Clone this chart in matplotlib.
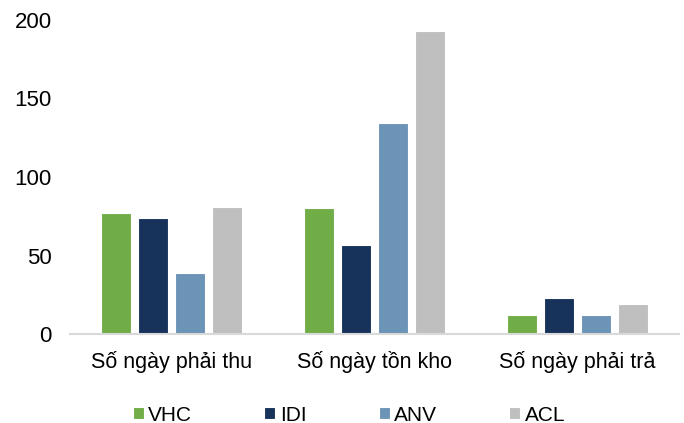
import matplotlib
matplotlib.use("Agg")
import matplotlib.pyplot as plt
import numpy as np

plt.rcParams['font.family'] = ['Liberation Sans', 'DejaVu Sans']

categories = ["Số ngày phải thu", "Số ngày tồn kho", "Số ngày phải trả"]
companies = ["VHC", "IDI", "ANV", "ACL"]
vhc = [77, 80, 12]
idi = [74, 56.5, 23]
anv = [39, 134.5, 12.5]
acl = [81, 193, 19.5]
series = [vhc, idi, anv, acl]
colors = ["#70AD47", "#17335C", "#6C94B6", "#BFBFBF"]
yticks = [0, 50, 100, 150, 200]

fig = plt.figure(figsize=(6.84, 4.23), dpi=100)
ax = fig.add_axes([0.102, 0.21, 0.891, 0.743])

x = np.arange(len(categories))
pitch = 0.182
width = 0.146
for i, (name, vals, c) in enumerate(zip(companies, series, colors)):
    offs = (i - 1.5) * pitch
    ax.bar(x + offs, vals, width=width, color=c, edgecolor="white",
           linewidth=0.8, label=name, zorder=2)

ax.set_xlim(-0.5, 2.5)
ax.set_ylim(0, 200)
ax.set_yticks(yticks)
ax.set_yticklabels([str(t) for t in yticks], fontsize=16)
ax.set_xticks(x)
ax.set_xticklabels(categories, fontsize=15.5)
ax.tick_params(axis="both", length=0, colors="black")
ax.tick_params(axis="y", pad=13)
ax.tick_params(axis="x", pad=12)

for s in ["top", "right", "left"]:
    ax.spines[s].set_visible(False)
ax.spines["bottom"].set_color("#D9D9D9")
ax.spines["bottom"].set_linewidth(1.5)

leg = fig.legend(loc="center", bbox_to_anchor=(349 / 684, 1 - 415 / 423), ncol=4,
                 frameon=False, fontsize=15, handlelength=0.53, handleheight=0.53,
                 handletextpad=0.22, columnspacing=3.46)

fig.savefig("out.png", dpi=100)
